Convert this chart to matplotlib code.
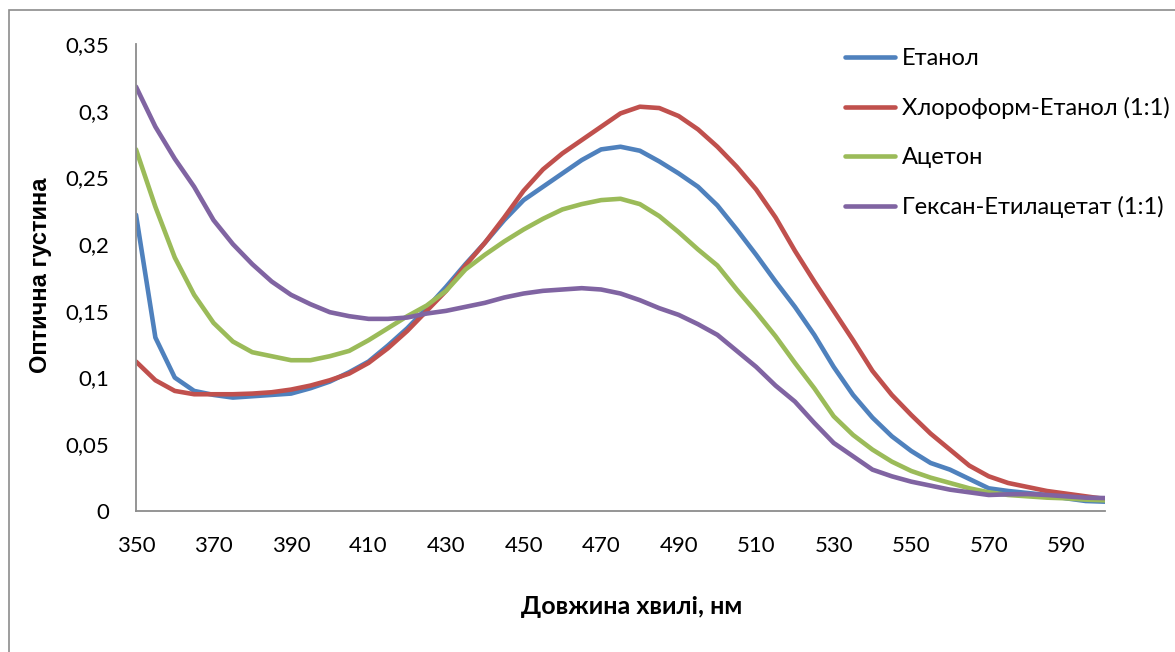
import numpy as np
import matplotlib
matplotlib.use('Agg')
import matplotlib.pyplot as plt
from matplotlib.ticker import FuncFormatter
from matplotlib.patches import Rectangle

plt.rcParams['font.family'] = ['Lato', 'Open Sans', 'DejaVu Sans']

# довжина хвилі, нм (крок 5 нм)
hvyli = list(range(350, 601, 5))

etanol = [0.222, 0.130, 0.100, 0.090, 0.087, 0.085, 0.086, 0.087, 0.088, 0.092,
          0.097, 0.104, 0.112, 0.124, 0.137, 0.152, 0.168, 0.185, 0.201, 0.218,
          0.233, 0.243, 0.253, 0.263, 0.271, 0.273, 0.270, 0.262, 0.253, 0.243,
          0.229, 0.211, 0.192, 0.172, 0.153, 0.132, 0.108, 0.087, 0.070, 0.056,
          0.045, 0.036, 0.031, 0.024, 0.017, 0.015, 0.0135, 0.012, 0.0095, 0.0075,
          0.007]

hloroform_etanol = [0.112, 0.098, 0.090, 0.0875, 0.0875, 0.0875, 0.088, 0.089, 0.091, 0.094,
                    0.098, 0.103, 0.111, 0.122, 0.135, 0.150, 0.165, 0.184, 0.201, 0.220,
                    0.240, 0.256, 0.268, 0.278, 0.288, 0.298, 0.303, 0.302, 0.296, 0.286,
                    0.273, 0.258, 0.241, 0.220, 0.195, 0.172, 0.150, 0.128, 0.105, 0.087,
                    0.072, 0.058, 0.046, 0.034, 0.026, 0.021, 0.018, 0.015, 0.013, 0.011,
                    0.009]

aceton = [0.271, 0.228, 0.190, 0.162, 0.141, 0.127, 0.119, 0.116, 0.113, 0.113,
          0.116, 0.120, 0.128, 0.137, 0.146, 0.154, 0.165, 0.181, 0.192, 0.202,
          0.211, 0.219, 0.226, 0.230, 0.233, 0.234, 0.230, 0.221, 0.209, 0.196,
          0.184, 0.166, 0.149, 0.131, 0.111, 0.092, 0.071, 0.057, 0.046, 0.037,
          0.030, 0.025, 0.021, 0.017, 0.014, 0.012, 0.011, 0.010, 0.0095, 0.0085,
          0.008]

geksan_etylacetat = [0.318, 0.288, 0.264, 0.243, 0.218, 0.200, 0.185, 0.172, 0.162, 0.155,
                     0.149, 0.146, 0.144, 0.144, 0.145, 0.148, 0.150, 0.153, 0.156, 0.160,
                     0.163, 0.165, 0.166, 0.167, 0.166, 0.163, 0.158, 0.152, 0.147, 0.140,
                     0.132, 0.120, 0.108, 0.094, 0.082, 0.066, 0.051, 0.041, 0.031, 0.026,
                     0.022, 0.019, 0.016, 0.014, 0.012, 0.0125, 0.0127, 0.012, 0.011, 0.010,
                     0.0097]

serii = [
    ('Етанол', etanol, '#4F81BD'),
    ('Хлороформ-Етанол (1:1)', hloroform_etanol, '#C0504D'),
    ('Ацетон', aceton, '#9BBB59'),
    ('Гексан-Етилацетат (1:1)', geksan_etylacetat, '#8064A2'),
]

W, H = 1175, 652
fig = plt.figure(figsize=(W / 100, H / 100), dpi=100)
ax = fig.add_axes([136 / W, 1 - 511 / H, (1105 - 136) / W, (511 - 44) / H])

# рамка навколо діаграми
fig.patches.append(Rectangle((9 / W, -0.1), 1.2, 1 - 9.5 / H + 0.1, transform=fig.transFigure,
                             fill=False, edgecolor='#8c8c8c', linewidth=1.2))

for nazva, y, kolir in serii:
    ax.plot(hvyli, y, color=kolir, linewidth=3.3, label=nazva, solid_capstyle='round')

ax.set_xlim(350, 600)
ax.set_ylim(0, 0.35)
ax.set_xticks(range(350, 591, 20))
ax.set_yticks(np.arange(0, 0.351, 0.05))
ax.yaxis.set_major_formatter(FuncFormatter(lambda v, p: f'{v:.2f}'.rstrip('0').rstrip('.').replace('.', ',') if v else '0'))

for s in ['top', 'right']:
    ax.spines[s].set_visible(False)
for s in ['left', 'bottom']:
    ax.spines[s].set_color('#8c8c8c')
    ax.spines[s].set_linewidth(1.3)
ax.tick_params(length=0, labelsize=16, colors='black')
ax.tick_params(axis='y', pad=19)
ax.tick_params(axis='x', pad=18)

fig.text(41 / W, 1 - 275 / H, 'Оптична густина', rotation=90, ha='center', va='center',
         fontsize=17, fontweight='bold', family=['Liberation Sans', 'DejaVu Sans'])
fig.text(632 / W, 1 - 606 / H, 'Довжина хвилі, нм', ha='center', va='center',
         fontsize=18, fontweight='bold')

ax.legend(loc='upper left', bbox_to_anchor=(836 / W, 1 - 39 / H), bbox_transform=fig.transFigure,
          frameon=False, fontsize=17, handlelength=2.1, handletextpad=0.3, labelspacing=1.18,
          borderaxespad=0)

fig.savefig('out.png', dpi=100)
